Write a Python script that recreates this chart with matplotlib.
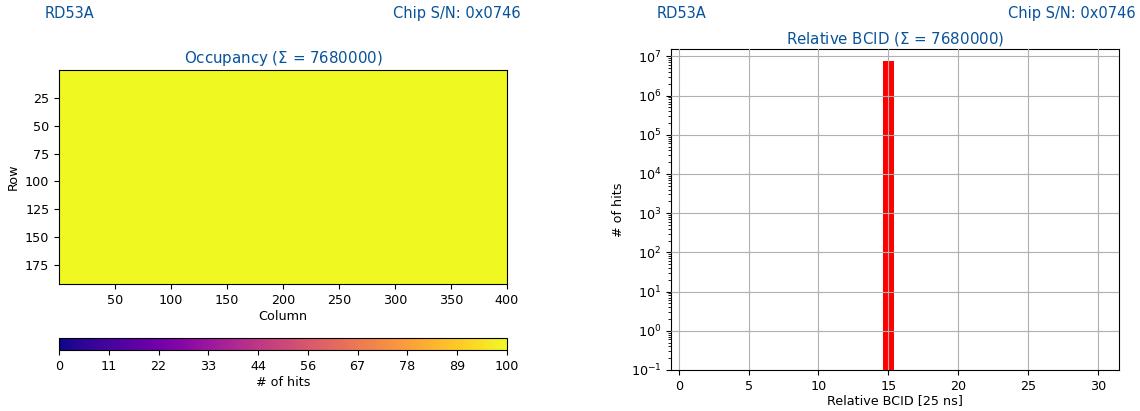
import numpy as np
import matplotlib
matplotlib.use("Agg")
import matplotlib.pyplot as plt

# chip info
chip_type = "RD53A"
chip_sn = "0x0746"
title_color = "#07529a"

# occupancy map: every pixel got the same number of hits
n_rows = 192
n_cols = 400
hits_per_pixel = 100
occupancy = np.full((n_rows, n_cols), hits_per_pixel)

# relative BCID histogram (32 bins, all hits in bin 15)
bcid_bins = list(range(32))
bcid_counts = [0] * 15 + [7680000] + [0] * 16

plt.rcParams["font.size"] = 9.2

fig = plt.figure(figsize=(11.4, 4.11), dpi=100)

# header texts
for x_left, x_right in [(0.039, 0.457), (0.576, 0.996)]:
    fig.text(x_left, 0.968, chip_type, color=title_color, fontsize=10.5,
             ha="left", va="center")
    fig.text(x_right, 0.968, "Chip S/N: " + chip_sn, color=title_color,
             fontsize=10.5, ha="right", va="center")

# ---- occupancy ----
ax1 = fig.add_axes([0.0518, 0.309, 0.3929, 0.521])
im = ax1.imshow(occupancy, cmap="plasma", vmin=0, vmax=hits_per_pixel,
                extent=[0, n_cols, n_rows, 0], aspect="auto",
                interpolation="none")
ax1.set_xticks([50, 100, 150, 200, 250, 300, 350, 400])
ax1.set_yticks([25, 50, 75, 100, 125, 150, 175])
ax1.set_xlabel("Column", labelpad=2)
ax1.set_ylabel("Row")
ax1.set_title("Occupancy ($\\Sigma$ = %d)" % occupancy.sum(),
              color=title_color, fontsize=10.8, pad=5)

cax = fig.add_axes([0.0518, 0.148, 0.3929, 0.029])
cb = fig.colorbar(im, cax=cax, orientation="horizontal",
                  ticks=np.linspace(0, hits_per_pixel, 10))
cb.ax.set_xticklabels(["%1.0f" % t for t in np.linspace(0, hits_per_pixel, 10)])
cb.set_label("# of hits", labelpad=2)

# ---- relative BCID ----
ax2 = fig.add_axes([0.5886, 0.0998, 0.3930, 0.7812])
ax2.bar(bcid_bins, bcid_counts, width=0.75, color="red", align="center")
ax2.set_yscale("log")
ax2.set_ylim(0.1, 1.55e7)
ax2.set_xlim(-0.55, 31.5)
ax2.set_xticks([0, 5, 10, 15, 20, 25, 30])
ax2.grid(True)
ax2.set_axisbelow(False)
ax2.set_xlabel("Relative BCID [25 ns]", labelpad=1)
ax2.set_ylabel("# of hits")
ax2.set_title("Relative BCID ($\\Sigma$ = %d)" % sum(bcid_counts),
              color=title_color, fontsize=10.8, pad=4)

fig.savefig("out.png", dpi=100)
